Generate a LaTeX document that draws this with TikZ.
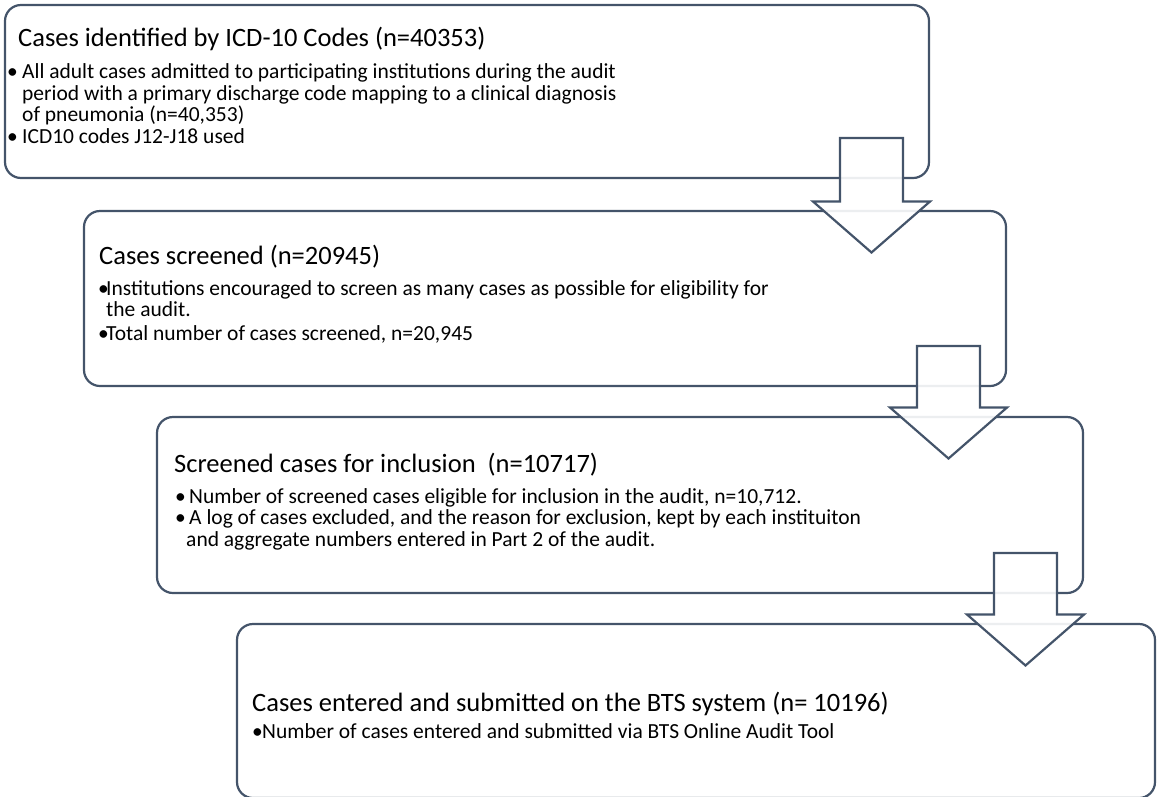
\documentclass[tikz,border=0pt]{standalone}
\usepackage{fontspec}
\setmainfont{Carlito}
\usetikzlibrary{calc}
\definecolor{slate}{HTML}{44546A}
\newcommand\bitem[1]{\makebox[#1][l]{\textbullet}}

\begin{document}
\begin{tikzpicture}[x=1pt, y=-1pt,
    stagebox/.style={draw=slate, line width=2.2pt, rounded corners=16pt, anchor=north west, inner sep=0pt, outer sep=0pt},
    stagetitle/.style={anchor=base west, inner sep=0pt, font=\fontsize{26.5}{32}\selectfont},
    stagelist/.style={anchor=base west, inner sep=0pt, align=left, font=\fontsize{21.5}{21.5}\selectfont},
    flowarrow/.style={draw=slate, line width=2.2pt, fill=white, fill opacity=0.9}]
    \useasboundingbox (0,0) rectangle (1157,796);
    \def\shaftw{31.5}\def\headw{58.5}\def\headlen{51}

    % the four stages
    \node[stagebox, minimum width=924pt, minimum height=173pt] (box1) at (5,5) {};
    \node[stagebox, minimum width=922pt, minimum height=175pt] (box2) at (84,211) {};
    \node[stagebox, minimum width=926pt, minimum height=176pt] (box3) at (157,417) {};
    \node[stagebox, minimum width=918pt, minimum height=174pt] (box4) at (237,624) {};

    % lists are placed by the baseline of their last line
    \node[stagetitle] (title1) at (18,46) {Cases identified by ICD-10 Codes (n=40353)};
    \node[stagelist] (list1) at (7,143) {\bitem{15pt}All adult cases admitted to participating institutions during the audit\\
        \hspace*{15pt}period with a primary discharge code mapping to a clinical diagnosis\\
        \hspace*{15pt}of pneumonia (n=40,353)\\
        \bitem{15pt}ICD10 codes J12-J18 used};

    \node[stagetitle] (title2) at (99,264) {Cases screened (n=20945)};
    \node[stagelist] (list2) at (98,340) {\bitem{8pt}Institutions encouraged to screen as many cases as possible for eligibility for\\
        \hspace*{8pt}the audit.\\[2pt]
        \bitem{8pt}Total number of cases screened, n=20,945};

    \node[stagetitle] (title3) at (174,472) {Screened cases for inclusion\ \ (n=10717)};
    \node[stagelist] (list3) at (175,546) {\bitem{14pt}Number of screened cases eligible for inclusion in the audit, n=10,712.\\
        \bitem{14pt}A log of cases excluded, and the reason for exclusion, kept by each instituiton\\
        \hspace*{11pt}and aggregate numbers entered in Part 2 of the audit.};

    \node[stagetitle] (title4) at (252,711) {Cases entered and submitted on the BTS system (n= 10196)};
    \node[stagelist] (list4) at (252,738) {\bitem{10pt}Number of cases entered and submitted via BTS Online Audit Tool};

    % block arrows between the stages
    \foreach \i/\j in {1/2,2/3,3/4} {
        \coordinate (top\i) at ($(box\i.south east)+(-57.5,-40)$);
        \coordinate (tip\i) at ($(top\i |- box\j.north)+(0,41.5)$);
        \draw[flowarrow] let \p1=(top\i), \p2=(tip\i) in
            ({\x1-\shaftw pt},\y1) -- ({\x1+\shaftw pt},\y1) -- ({\x1+\shaftw pt},{\y2+\headlen pt})
            -- ({\x1+\headw pt},{\y2+\headlen pt}) -- (\x2,\y2) -- ({\x1-\headw pt},{\y2+\headlen pt})
            -- ({\x1-\shaftw pt},{\y2+\headlen pt}) -- cycle;
    }
\end{tikzpicture}
\end{document}
